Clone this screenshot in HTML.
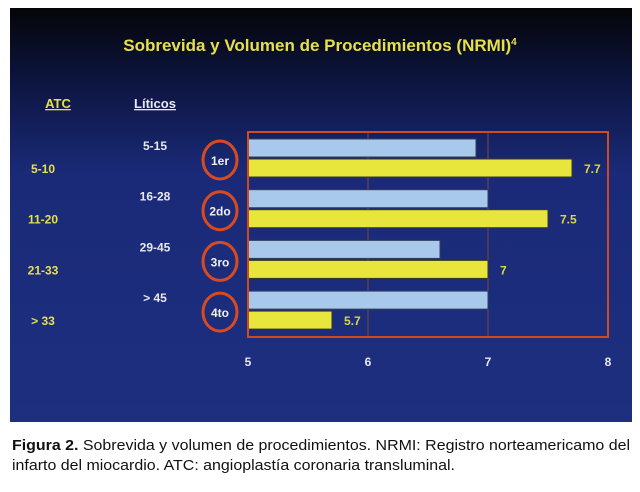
<!DOCTYPE html>
<html><head><meta charset="utf-8"><style>
body{margin:0;background:#fff;width:640px;height:487px;overflow:hidden;font-family:"Liberation Sans",sans-serif}
</style></head><body>
<svg width="640" height="487" viewBox="0 0 640 487">
<defs>
<linearGradient id="bg" x1="0" y1="0" x2="0" y2="1">
<stop offset="0" stop-color="#050508"/><stop offset="0.18" stop-color="#0d1540"/><stop offset="0.4" stop-color="#1a2a78"/><stop offset="1" stop-color="#1e2f80"/>
</linearGradient>
</defs>
<rect x="10" y="8" width="622" height="414" fill="url(#bg)"/>
<text x="320" y="51" text-anchor="middle" fill="#e6e04a" font-weight="bold" font-size="17">Sobrevida y Volumen de Procedimientos (NRMI)<tspan font-size="10" dy="-6">4</tspan></text>
<text x="58" y="108" text-anchor="middle" fill="#e6e04a" font-weight="bold" font-size="13" text-decoration="underline">ATC</text>
<text x="155" y="108" text-anchor="middle" fill="#e8e8f0" font-weight="bold" font-size="13" text-decoration="underline">Líticos</text>
<g id="plot"></g>
<text x="12" y="450" font-size="15" fill="#111" textLength="618" lengthAdjust="spacingAndGlyphs"><tspan font-weight="bold">Figura 2.</tspan> Sobrevida y volumen de procedimientos. NRMI: Registro norteamericamo del</text>
<text x="12" y="470" font-size="15" fill="#111" textLength="443" lengthAdjust="spacingAndGlyphs">infarto del miocardio. ATC: angioplastía coronaria transluminal.</text>
</svg>
<script>
const quartiles=["1er","2do","3ro","4to"];
const atcRanges=["5-10","11-20","21-33","> 33"];
const liticosRanges=["5-15","16-28","29-45","> 45"];
const liticosValues=[6.9,7.0,6.6,7.0];
const atcValues=[7.7,7.5,7.0,5.7];
const atcLabels=["7.7","7.5","7","5.7"];
const xTicks=[5,6,7,8];
const NS="http://www.w3.org/2000/svg";
const g=document.getElementById('plot');
const x0=248,x1=608,xmin=5,xmax=8;
const xs=v=>x0+(v-xmin)/(xmax-xmin)*(x1-x0);
const groupTop=i=>139+i*50.7;
function mk(t,a,p){const e=document.createElementNS(NS,t);for(const k in a)e.setAttribute(k,a[k]);(p||g).appendChild(e);return e;}
xTicks.forEach((t,i)=>{
 if(i>0&&i<xTicks.length-1){const l=mk('line',{x1:xs(t),x2:xs(t),y1:132,y2:337,stroke:'#7a4a40','stroke-width':1});
 
 }
 const tx=mk('text',{x:xs(t),y:366,'text-anchor':'middle',fill:'#e8e8f0','font-size':12,'font-weight':'bold'});tx.textContent=t;
 
 
});
quartiles.forEach((q,i)=>{
 const y=groupTop(i);
 const b=mk('rect',{x:x0,y:y,width:xs(liticosValues[i])-x0,height:18,fill:'#a8c8ec',stroke:'#30405a','stroke-width':1});
 
 
 const b2=mk('rect',{x:x0,y:y+20,width:xs(atcValues[i])-x0,height:18,fill:'#e8e63c',stroke:'#3a3a20','stroke-width':1});
 
 
 const v=mk('text',{x:xs(atcValues[i])+12,y:y+34,fill:'#d8d840','font-size':12,'font-weight':'bold'});v.textContent=atcLabels[i];
 
 
 const c=mk('ellipse',{cx:220,cy:y+21,rx:17,ry:19,fill:'none',stroke:'#d84a20','stroke-width':3});
 
 
 const ct=mk('text',{x:220,y:y+26,'text-anchor':'middle',fill:'#f0f0f0','font-size':12,'font-weight':'bold'});ct.textContent=q;
 
 
 const a=mk('text',{x:43,y:y+34,'text-anchor':'middle',fill:'#e6e04a','font-size':12,'font-weight':'bold'});a.textContent=atcRanges[i];
 
 
 const lt=mk('text',{x:155,y:y+11,'text-anchor':'middle',fill:'#e8e8f0','font-size':12,'font-weight':'bold'});lt.textContent=liticosRanges[i];
 
 
});
const fr=mk('rect',{x:x0,y:132,width:x1-x0,height:205,fill:'none',stroke:'#d04a20','stroke-width':2});


</script>
</body></html>
